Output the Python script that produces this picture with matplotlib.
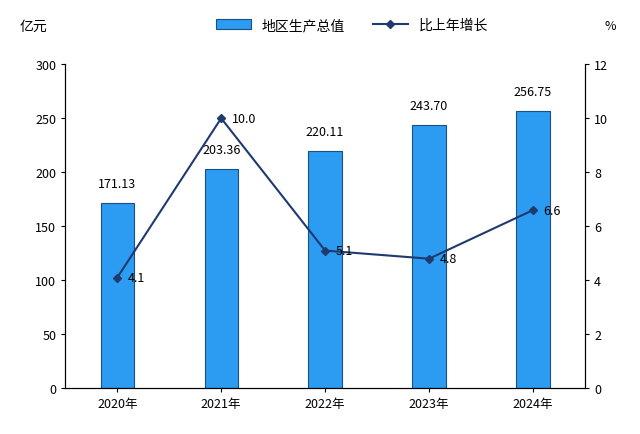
import matplotlib.pyplot as plt

plt.rcParams['font.family'] = ['Noto Sans CJK SC', 'DejaVu Sans']

years = ["2020年", "2021年", "2022年", "2023年", "2024年"]
gdp = [171.13, 203.36, 220.11, 243.70, 256.75]
growth = [4.1, 10.0, 5.1, 4.8, 6.6]

fig = plt.figure(figsize=(6.4, 4.35), dpi=100)
ax = fig.add_axes([0.102, 0.105, 0.812, 0.745])
x = range(len(years))
ax.bar(x, gdp, width=0.32, color="#2B9CF2", edgecolor="#1a4f80", linewidth=0.8, label="地区生产总值")
for i, v in enumerate(gdp):
    ax.text(i, v + 12, f"{v:.2f}", ha="center", va="bottom", fontsize=9)
ax.set_ylim(0, 300)
ax.set_yticks(range(0, 301, 50))
ax.set_xticks(list(x))
ax.set_xticklabels(years, fontsize=9)
ax.set_xlim(-0.5, 4.5)
ax.tick_params(labelsize=9, length=3)
for s in ["top"]:
    ax.spines[s].set_visible(False)

ax2 = ax.twinx()
ax2.plot(x, growth, color="#1F3A6E", marker="D", markersize=4, linewidth=1.5, label="比上年增长")
for i, v in enumerate(growth):
    ax2.text(i + 0.1, v, f"{v:.1f}", ha="left", va="center", fontsize=9)
ax2.set_ylim(0, 12)
ax2.set_yticks(range(0, 13, 2))
ax2.tick_params(labelsize=9, length=3)
ax2.spines["top"].set_visible(False)

fig.text(0.03, 0.93, "亿元", fontsize=10)
fig.text(0.945, 0.93, "%", fontsize=9)
h1, l1 = ax.get_legend_handles_labels()
h2, l2 = ax2.get_legend_handles_labels()
fig.legend(h1 + h2, l1 + l2, loc="upper center", bbox_to_anchor=(0.55, 0.985), ncol=2,
           frameon=False, fontsize=10, handlelength=2.5, columnspacing=2)

fig.savefig("out.png", dpi=100)
